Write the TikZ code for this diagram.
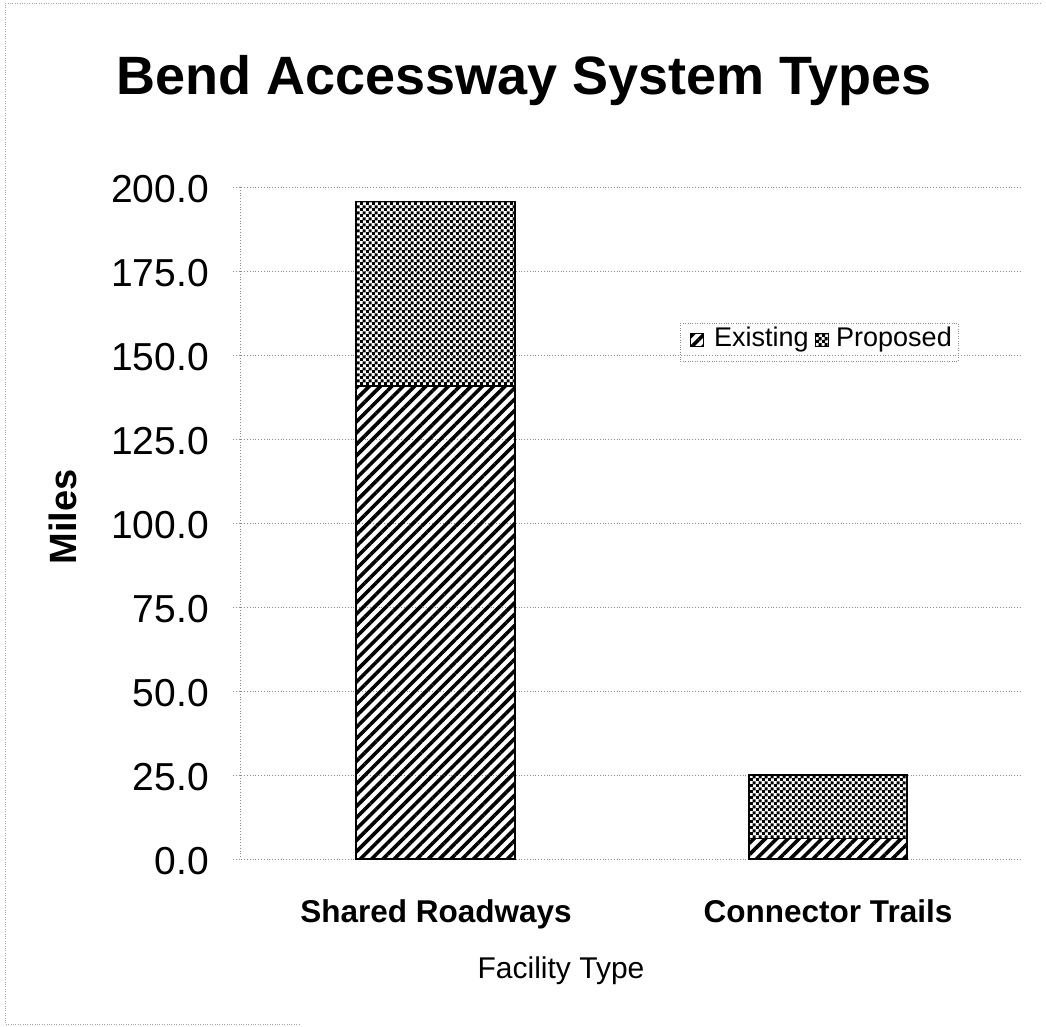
\documentclass[tikz,border=0pt]{standalone}
\usepackage{fontspec}
\setmainfont{Liberation Sans}
\usetikzlibrary{patterns,patterns.meta}

% fine checker texture for the proposed miles
\pgfdeclarepatternformonly{checks}{\pgfqpoint{0pt}{0pt}}{\pgfqpoint{6pt}{6pt}}{\pgfqpoint{6pt}{6pt}}{%
  \pgfpathrectangle{\pgfqpoint{0pt}{0pt}}{\pgfqpoint{3.4pt}{3.4pt}}%
  \pgfpathrectangle{\pgfqpoint{3pt}{3pt}}{\pgfqpoint{3.4pt}{3.4pt}}%
  \pgfusepath{fill}}

\newcommand{\miles}[1]{859-3.36*#1}

\tikzset{
  existing/.style={draw=black,line width=1.2pt,pattern={Lines[angle=45,distance=8pt,line width=3.6pt]}},
  proposed/.style={draw=black,line width=1.2pt,pattern=checks},
  gridline/.style={black!45,dotted,line width=0.8pt},
  ylab/.style={font=\fontsize{39}{42}\selectfont,inner sep=0pt},
  legtext/.style={font=\fontsize{27}{30}\selectfont,inner sep=0pt},
}

\begin{document}
\begin{tikzpicture}[x=1pt,y=-1pt]
\useasboundingbox (0,0) rectangle (1046,1027);
% chart area border
\draw[black!35,dotted] (1040,3) -- (5,3) -- (5,1024) -- (300,1024);

\node[font=\bfseries\fontsize{54}{60}\selectfont,anchor=base] (title) at (524,95) {Bend Accessway System Types};

% value axis, gridlines and labels
\foreach \lab [count=\k from 0] in {0.0,25.0,50.0,75.0,100.0,125.0,150.0,175.0,200.0}{
  \draw[gridline] (233,{859-84*\k}) -- (1022,{859-84*\k});
  \node[ylab,anchor=east] (y\k) at (209,{861-84*\k}) {\lab};
}
\draw[gridline] (240,187) -- (240,859);

% stacked bars
\draw[existing] (356,859) rectangle (515,{\miles{140.8}});
\draw[proposed] (356,{\miles{140.8}}) rectangle (515,{\miles{195.8}});
\draw[existing] (749,859) rectangle (907,{\miles{6.2}});
\draw[proposed] (749,{\miles{6.2}}) rectangle (907,{\miles{25}});

% legend
\draw[black!45,dotted] (680,323) rectangle (958,361);
\draw[existing,line width=0.6pt] (690,333) rectangle (703,346);
\node[legtext,anchor=base west] (lexist) at (714,346) {Existing};
\draw[proposed,line width=0.6pt] (815,333) rectangle (828,346);
\node[legtext,anchor=base west] (lprop) at (836,346) {Proposed};

% axis titles
\node[font=\bfseries\fontsize{38}{40}\selectfont,rotate=90,anchor=base,inner sep=0pt] (ytitle) at (76,517) {Miles};
\node[font=\bfseries\fontsize{31.5}{34}\selectfont,anchor=base] (cat1) at (436,922) {Shared Roadways};
\node[font=\bfseries\fontsize{31.5}{34}\selectfont,anchor=base] (cat2) at (828,922) {Connector Trails};
\node[font=\fontsize{30}{34}\selectfont,anchor=base] (xtitle) at (561,978) {Facility Type};
\end{tikzpicture}
\end{document}
